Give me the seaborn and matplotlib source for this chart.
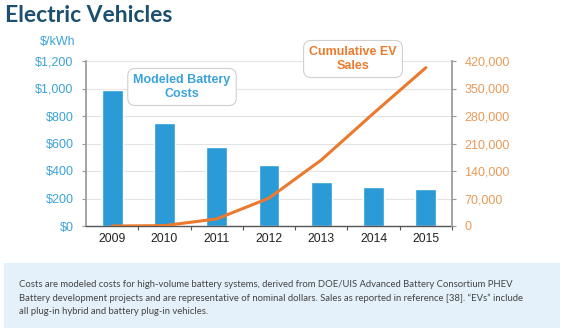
import matplotlib
matplotlib.use("Agg")
import matplotlib.pyplot as plt
import seaborn as sns
import numpy as np
import pandas as pd
from matplotlib.patches import FancyBboxPatch

years = ["2009", "2010", "2011", "2012", "2013", "2014", "2015"]
battery_cost = [990, 750, 577, 442, 323, 286, 267]
ev_sales = [0, 1000, 18000, 71000, 168000, 287000, 403000]
left_ticks = [0, 200, 400, 600, 800, 1000, 1200]
left_labels = ["$0", "$200", "$400", "$600", "$800", "$1,000", "$1,200"]
right_ticks = [0, 70000, 140000, 210000, 280000, 350000, 420000]
right_labels = ["0", "70,000", "140,000", "210,000", "280,000", "350,000", "420,000"]

BLUE = "#2a9bd7"
BLUE_TXT = "#3ba3da"
ORANGE = "#ec7a2e"
ORANGE_TXT = "#e99a58"
TITLE = "#1d4f6e"

sns.set_theme(style="white")
plt.rcParams['font.family'] = ['Liberation Sans', 'DejaVu Sans']

fig = plt.figure(figsize=(5.70, 3.32), dpi=100)
ax = fig.add_axes([86/570, 1-226/332, (452-86)/570, 165/332])

df = pd.DataFrame({"year": years, "cost": battery_cost, "sales": ev_sales,
                   "pos": np.arange(len(years))})
sns.barplot(data=df, x="year", y="cost", color=BLUE, saturation=1, width=0.4, ax=ax)
ax.set_xlim(-0.5, len(years) - 0.5)
ax.set_ylim(0, 1200)
ax.set_yticks(left_ticks)
ax.set_yticklabels(left_labels, color=BLUE_TXT, fontsize=9)
ax.set_xlabel("")
ax.set_ylabel("")
ax.yaxis.grid(True, color="#e4e4e4", lw=0.8)
ax.set_axisbelow(True)
ax.tick_params(axis="y", length=3, width=0.8, color="#999999", pad=6, left=True)
ax.tick_params(axis="x", which="major", length=0, labelsize=8.8, labelcolor="#222222", pad=5)
ax.set_xticks(np.arange(len(years)) + 0.5, minor=True)
ax.tick_params(axis="x", which="minor", length=3, width=0.8, color="#555555", bottom=True)
ax.spines["top"].set_visible(False)
ax.spines["left"].set_color("#999999")
ax.spines["right"].set_visible(False)
ax.spines["bottom"].set_color("#555555")
ax.spines["bottom"].set_linewidth(1.0)

ax2 = ax.twinx()
sns.lineplot(data=df, x="pos", y="sales", color=ORANGE, lw=2.2, ax=ax2)
ax2.set_ylim(0, 420000)
ax2.set_xlim(-0.5, len(years) - 0.5)
ax2.set_yticks(right_ticks)
ax2.set_yticklabels(right_labels, color=ORANGE_TXT, fontsize=9)
ax2.set_ylabel("")
ax2.tick_params(axis="y", length=3, width=0.8, color="#999999", pad=6, right=True)
ax2.spines["top"].set_visible(False)
ax2.spines["left"].set_visible(False)
ax2.spines["bottom"].set_visible(False)
ax2.spines["right"].set_color("#999999")
ax2.grid(False)

narrow = ['Liberation Sans Narrow', 'Liberation Sans', 'DejaVu Sans']
box = dict(boxstyle="round,pad=0.45,rounding_size=0.6", fc="white", ec="#d0d0d0", lw=0.8)
fig.text(182/570, 1-87/332, "Modeled Battery\nCosts", ha="center", va="center",
         color=BLUE_TXT, fontsize=9, fontweight="bold", family=narrow,
         linespacing=1.2, bbox=box)
fig.text(353/570, 1-59/332, "Cumulative EV\nSales", ha="center", va="center",
         color=ORANGE, fontsize=9, fontweight="bold", family=narrow,
         linespacing=1.2, bbox=box)

fig.text(5/570, 1-15/332, "Electric Vehicles", ha="left", va="center",
         color=TITLE, fontsize=16.5, fontweight="bold", family=['Lato', 'DejaVu Sans'])
fig.text(58/570, 1-42/332, "$/kWh", ha="center", va="center", color=BLUE_TXT, fontsize=9)

# footnote panel
fig.patches.append(FancyBboxPatch((4/570, 1-328/332), (560-4)/570, (328-263)/332,
                                  boxstyle="square,pad=0", transform=fig.transFigure,
                                  fc="#e4f1fa", ec="none", zorder=0))
foot = ("Costs are modeled costs for high-volume battery systems, derived from DOE/UIS Advanced Battery Consortium PHEV\n"
        "Battery development projects and are representative of nominal dollars. Sales as reported in reference [38]. \u201cEVs\u201d include\n"
        "all plug-in hybrid and battery plug-in vehicles.")
fig.text(19/570, 1-298/332, foot, ha="left", va="center", color="#444444",
         fontsize=6.8, family=['Lato', 'DejaVu Sans'], linespacing=1.6)

fig.savefig("out.png", dpi=100)
